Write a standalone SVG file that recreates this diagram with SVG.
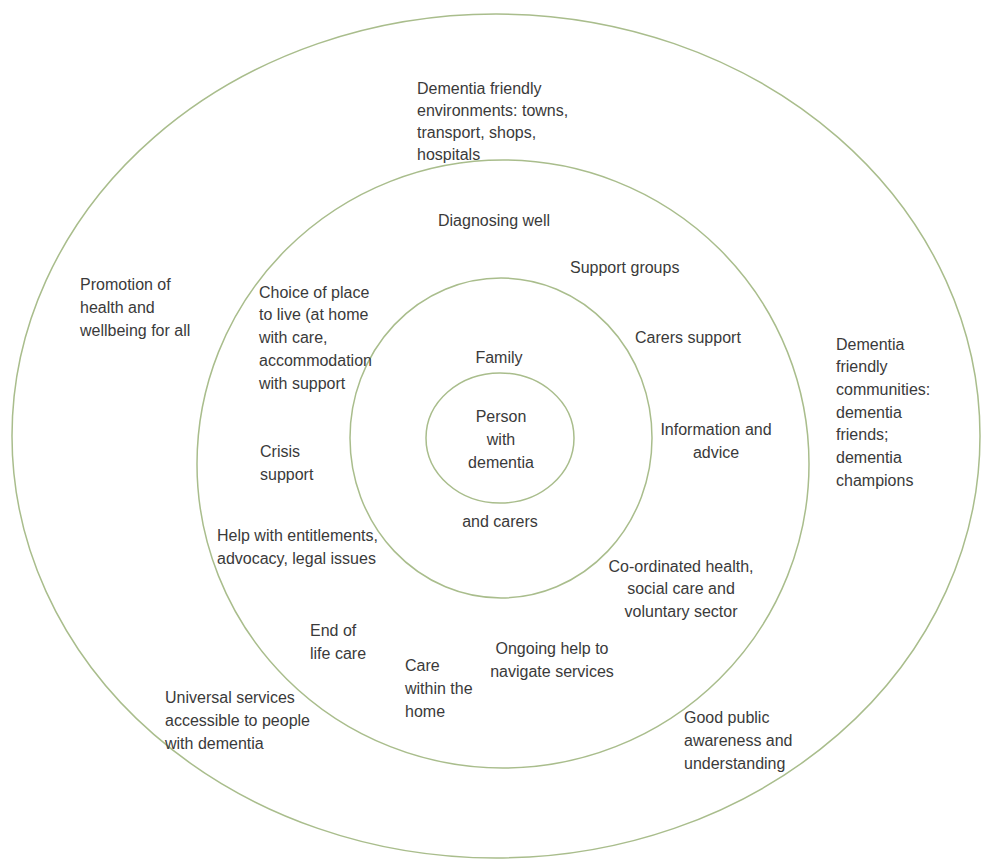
<svg xmlns="http://www.w3.org/2000/svg" width="981" height="861" viewBox="0 0 981 861">
<style>
.ring{fill:none;stroke:#a9bd8c;stroke-width:1.5}
.t{font-family:"Liberation Sans",Arial,sans-serif;font-size:16px;fill:#3a3a3a}
.c{text-anchor:middle}
</style>
<rect width="981" height="861" fill="#ffffff"/>
<g id="rings">
<ellipse id="ring-outer" class="ring" cx="496" cy="436" rx="484" ry="422"/>
<ellipse id="ring-services" class="ring" cx="503" cy="464" rx="306" ry="304"/>
<ellipse id="ring-family" class="ring" cx="501" cy="438" rx="151" ry="160"/>
<ellipse id="ring-person" class="ring" cx="500" cy="438" rx="74" ry="65"/>
</g>
<g id="outer-labels">
<text id="env" class="t" x="417"><tspan x="417" y="94">Dementia friendly</tspan><tspan x="417" y="116">environments: towns,</tspan><tspan x="417" y="138">transport, shops,</tspan><tspan x="417" y="160">hospitals</tspan></text>
<text id="promo" class="t"><tspan x="80" y="290">Promotion of</tspan><tspan x="80" y="313">health and</tspan><tspan x="80" y="336">wellbeing for all</tspan></text>
<text id="communities" class="t"><tspan x="836" y="350">Dementia</tspan><tspan x="836" y="372">friendly</tspan><tspan x="836" y="395">communities:</tspan><tspan x="836" y="418">dementia</tspan><tspan x="836" y="440">friends;</tspan><tspan x="836" y="463">dementia</tspan><tspan x="836" y="486">champions</tspan></text>
<text id="universal" class="t"><tspan x="165" y="703">Universal services</tspan><tspan x="165" y="726">accessible to people</tspan><tspan x="165" y="749">with dementia</tspan></text>
<text id="awareness" class="t"><tspan x="684" y="723">Good public</tspan><tspan x="684" y="746">awareness and</tspan><tspan x="684" y="769">understanding</tspan></text>
</g>
<g id="service-labels">
<text id="diagnosing" class="t" x="438" y="226">Diagnosing well</text>
<text id="support-groups" class="t" x="570" y="273">Support groups</text>
<text id="choice" class="t"><tspan x="259" y="298">Choice of place</tspan><tspan x="259" y="320">to live (at home</tspan><tspan x="259" y="343">with care,</tspan><tspan x="259" y="366">accommodation</tspan><tspan x="259" y="389">with support</tspan></text>
<text id="carers-support" class="t" x="635" y="343">Carers support</text>
<text id="info" class="t c"><tspan x="716" y="435">Information and</tspan><tspan x="716" y="458">advice</tspan></text>
<text id="crisis" class="t"><tspan x="260" y="457">Crisis</tspan><tspan x="260" y="480">support</tspan></text>
<text id="help" class="t"><tspan x="217" y="541">Help with entitlements,</tspan><tspan x="217" y="564">advocacy, legal issues</tspan></text>
<text id="coordinated" class="t c"><tspan x="681" y="572">Co-ordinated health,</tspan><tspan x="681" y="594">social care and</tspan><tspan x="681" y="617">voluntary sector</tspan></text>
<text id="end-of-life" class="t"><tspan x="310" y="636">End of</tspan><tspan x="310" y="659">life care</tspan></text>
<text id="care-home" class="t"><tspan x="405" y="671">Care</tspan><tspan x="405" y="694">within the</tspan><tspan x="405" y="717">home</tspan></text>
<text id="ongoing" class="t c"><tspan x="552" y="654">Ongoing help to</tspan><tspan x="552" y="677">navigate services</tspan></text>
</g>
<g id="family-labels">
<text id="family" class="t c" x="499" y="363">Family</text>
<text id="carers" class="t c" x="500" y="527">and carers</text>
</g>
<g id="person">
<text id="person-label" class="t c"><tspan x="501" y="422">Person</tspan><tspan x="501" y="445">with</tspan><tspan x="501" y="468">dementia</tspan></text>
</g>
</svg>
